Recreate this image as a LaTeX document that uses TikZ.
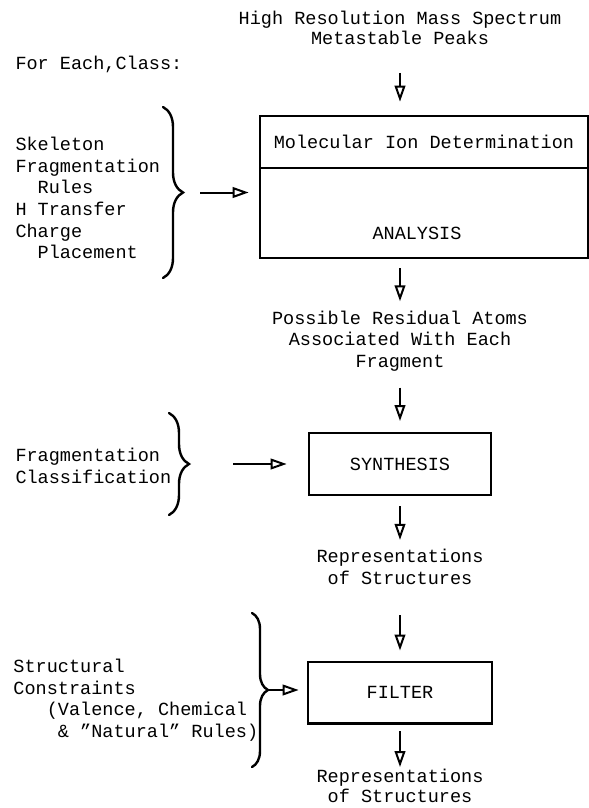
\documentclass[tikz,border=0pt]{standalone}
\usepackage{fontspec}
\setmainfont{Liberation Mono}
\usetikzlibrary{arrows.meta,decorations.pathreplacing}

\tikzset{every picture/.style={line width=0.75pt}}
\tikzset{
  txt/.style={inner sep=0pt, font=\fontsize{13.9}{16.2}\selectfont},
  box/.style={txt, draw, line width=2pt},
  flow/.style={line width=1.5pt, -{Triangle[open, length=12pt, width=8pt, line width=1.5pt]}},
  curly/.style={line width=1.8pt, line cap=round, decorate, decoration={brace, amplitude=#1}},
}

\begin{document}
\begin{tikzpicture}[x=0.75pt,y=0.75pt,yscale=-1,xscale=1]
    \useasboundingbox (0,0) rectangle (589,808);

    %Text: input spectrum
    \node [txt, align=center, font=\fontsize{13.9}{14.5}\selectfont] (spectrum) at (400,28) {High Resolution Mass Spectrum\\Metastable Peaks};
    \node [txt, anchor=west] (eachclass) at (15,64) {For Each,Class:};

    %Shape: Rectangle molecular ion + analysis
    \node [box, minimum width=246pt, minimum height=39pt] (molion) at (424,142) {Molecular Ion Determination};
    \node [box, minimum width=246pt, minimum height=67.5pt] (analysis) at (424,213) {};
    \node [txt] (analysislbl) at (417,233) {ANALYSIS};

    %Text: rules + brace
    \node [txt, anchor=west, align=left] (rules) at (15,198) {Skeleton\\Fragmentation\\\phantom{xx}Rules\\H Transfer\\Charge\\\phantom{xx}Placement};
    \draw [curly=15pt] (163,107) -- (163,278);
    \coordinate (rulestip) at (183,192.5);

    %Text: residual atoms
    \node [txt, align=center] (resid) at (400,341) {Possible Residual Atoms\\Associated With Each\\Fragment};

    %Shape: Rectangle synthesis
    \node [box, minimum width=136.5pt, minimum height=46.5pt] (synthesis) at (400,464) {SYNTHESIS};

    %Text: classification + brace
    \node [txt, anchor=west, align=left] (classes) at (15,466) {Fragmentation\\Classification};
    \draw [curly=15pt] (169,413) -- (169,515);
    \coordinate (classtip) at (189,464);

    %Text: candidate structures
    \node [txt, align=center] (reps) at (400,567) {Representations\\of Structures};

    %Shape: Rectangle filter
    \node [box, minimum width=138pt, minimum height=46pt] (filter) at (400,692.5) {FILTER};

    %Text: constraints + brace
    \node [txt, anchor=west, align=left] (constraints) at (13,700) {Structural\\Constraints\\\phantom{xxx}(Valence, Chemical\\\phantom{xxxx}\& "Natural" Rules)};
    \draw [curly=12pt] (252,613) -- (252,767);
    \coordinate (constrtip) at (268,690);

    %Text: output structures
    \node [txt, align=center, font=\fontsize{13.9}{14.5}\selectfont] (output) at (400,786) {Representations\\of Structures};

    %Arrows: main flow
    \draw [flow, shorten <=21pt, shorten >=9.75pt] (spectrum.south) -- (spectrum.south |- molion.north);
    \draw [flow, shorten <=6.75pt, shorten >=6.75pt] (analysis.south -| resid.north) -- (resid.north);
    \draw [flow, shorten <=12pt, shorten >=8pt] (resid.south) -- (synthesis.north);
    \draw [flow, shorten <=7.5pt, shorten >=6.75pt] (synthesis.south) -- (reps.north);
    \draw [flow, shorten <=22.5pt, shorten >=7.5pt] (reps.south) -- (filter.north);
    \draw [flow, shorten <=5pt, shorten >=1.5pt] (filter.south) -- (output.north);

    %Arrows: knowledge inputs
    \draw [flow, shorten <=12.75pt, shorten >=7.5pt] (rulestip) -- (rulestip -| analysis.west);
    \draw [flow, shorten <=33pt, shorten >=15.75pt] (classtip) -- (classtip -| synthesis.west);
    \draw [flow, shorten >=6pt] (constrtip) -- (constrtip -| filter.west);
\end{tikzpicture}
\end{document}
